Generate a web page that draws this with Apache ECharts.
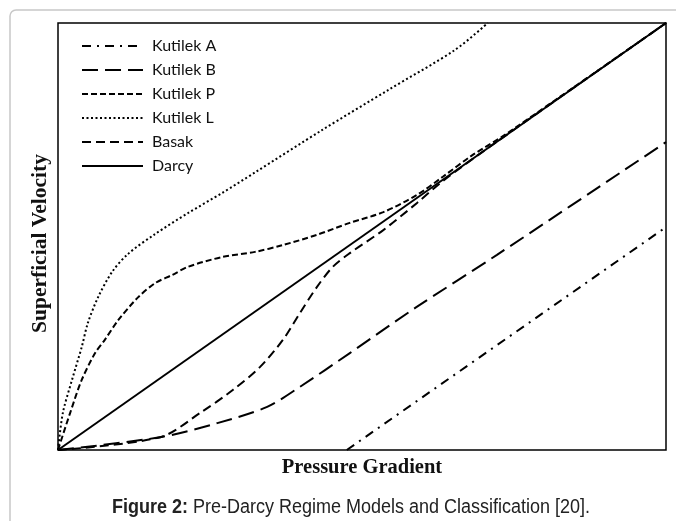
<!DOCTYPE html>
<html>
<head>
<meta charset="utf-8">
<script src="https://cdn.jsdelivr.net/npm/echarts@6/dist/echarts.min.js"></script>
<style>
  html, body { margin: 0; padding: 0; background: #fff; }
  #chart { width: 676px; height: 521px; }
</style>
</head>
<body>
<div id="chart"></div>
<script>
// pressure gradient (x) vs superficial velocity (y), both relative 0..100
const seriesNames = ["Kutilek A", "Kutilek B", "Kutilek P", "Kutilek L", "Basak", "Darcy"];

const kutilekA = [[47.5, 0], [100, 52.2]];
const kutilekB = [
  [0, 0], [16.8, 3.0], [26.2, 6.3], [34.4, 10.1], [39.8, 14.8],
  [48.0, 22.7], [59.0, 33.5], [72.2, 45.7], [100, 72.1]
];
const kutilekP = [
  [0, 0], [2.0, 8.7], [3.9, 16.4], [6.1, 22.7], [7.7, 25.8], [9.9, 30.4],
  [13.2, 35.8], [16.0, 39.1], [18.8, 41.0], [21.4, 42.9], [27.0, 45.2],
  [32.4, 46.4], [37.0, 48.0], [42.6, 50.4], [48.0, 53.2], [53.5, 55.7],
  [59.0, 59.7], [63.3, 64.0], [68.1, 69.0], [73.5, 73.8], [100, 100]
];
const kutilekL = [
  [0, 0], [0.8, 8.7], [2.3, 16.4], [3.9, 24.1], [4.9, 29.7], [6.6, 35.8],
  [8.9, 41.7], [11.5, 45.9], [16.0, 50.6], [21.4, 55.5], [27.0, 60.2],
  [32.4, 65.0], [43.4, 74.9], [54.3, 84.3], [65.3, 93.7], [70.7, 100]
];
const basak = [
  [0, 0], [16.8, 3.0], [23.4, 8.7], [28.8, 14.1], [33.2, 19.4], [37.0, 25.8],
  [39.8, 32.1], [42.6, 38.2], [45.2, 42.9], [48.0, 46.1], [53.5, 51.5],
  [59.0, 57.8], [63.3, 63.0], [70, 70], [100, 100]
];
const darcy = [[0, 0], [100, 100]];

const dashes = {
  "Kutilek A": [9, 6, 2, 6],
  "Kutilek B": [16, 7],
  "Kutilek P": [6, 3],
  "Kutilek L": [2, 2.5],
  "Basak": [9, 5],
  "Darcy": "solid"
};
const smoothing = { "Kutilek A": false, "Darcy": false };

const allData = [kutilekA, kutilekB, kutilekP, kutilekL, basak, darcy];

const chart = echarts.init(document.getElementById("chart"));

const option = {
  animation: false,
  backgroundColor: "#fff",
  grid: {
    left: 58, top: 23, right: 10, bottom: 71,
    show: true, borderColor: "#000", borderWidth: 1.5
  },
  legend: {
    orient: "vertical",
    left: 76, top: 33,
    itemWidth: 61, itemHeight: 14, itemGap: 8,
    data: seriesNames,
    itemStyle: { opacity: 0 },
    textStyle: { fontFamily: "Lato", fontSize: 16, color: "#111", padding: [0, 0, 0, 4] }
  },
  xAxis: {
    type: "value", min: 0, max: 100,
    name: "Pressure Gradient",
    nameLocation: "middle", nameGap: 7,
    nameTextStyle: { fontFamily: "Liberation Serif", fontWeight: "bold", fontSize: 20.5, color: "#111", verticalAlign: "top" },
    axisLine: { show: false }, axisTick: { show: false },
    axisLabel: { show: false }, splitLine: { show: false }
  },
  yAxis: {
    type: "value", min: 0, max: 100,
    name: "Superficial Velocity",
    nameLocation: "middle", nameGap: 7, nameRotate: 90,
    nameTextStyle: { fontFamily: "Liberation Serif", fontWeight: "bold", fontSize: 21.5, color: "#111", padding: [0, 14, 0, 0] },
    axisLine: { show: false }, axisTick: { show: false },
    axisLabel: { show: false }, splitLine: { show: false }
  },
  series: seriesNames.map((name, i) => ({
    name: name,
    type: "line",
    data: allData[i],
    symbol: "none",
    smooth: smoothing[name] === false ? false : 0.3,
    lineStyle: { color: "#000", width: 2, type: dashes[name] },
    itemStyle: { color: "#000" }
  })),
  graphic: [
    {
      type: "rect", z: -1,
      shape: { x: 10, y: 10, width: 700, height: 540, r: 6 },
      style: { fill: "none", stroke: "#c8c8c8", lineWidth: 1.5 }
    },
    {
      type: "text",
      x: 351, y: 507, scaleX: 0.9,
      style: {
        text: "{b|Figure 2:}{n| Pre-Darcy Regime Models and Classification [20].}",
        align: "center", verticalAlign: "middle",
        rich: {
          b: { fontWeight: "bold", fontSize: 20, fontFamily: "'Liberation Sans', sans-serif", fill: "#222" },
          n: { fontSize: 20, fontFamily: "'Liberation Sans', sans-serif", fill: "#222" }
        }
      }
    }
  ]
};

chart.setOption(option);
window.addEventListener("resize", () => chart.resize());
</script>
</body>
</html>
